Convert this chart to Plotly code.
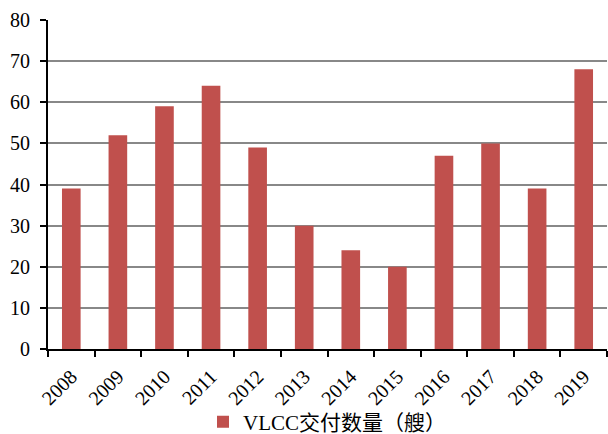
import plotly.graph_objects as go

years = ["2008", "2009", "2010", "2011", "2012", "2013", "2014", "2015", "2016", "2017", "2018", "2019"]
deliveries = [39, 52, 59, 64, 49, 30, 24, 20, 47, 50, 39, 68]
series_name = "VLCC交付数量（艘）"
y_ticks = [0, 10, 20, 30, 40, 50, 60, 70, 80]

font_family = "Liberation Serif, Times New Roman, Noto Sans CJK SC, serif"

fig = go.Figure()
fig.add_trace(go.Bar(
    x=years, y=deliveries, name=series_name,
    marker=dict(color="#C0504D", line=dict(width=0)),
    showlegend=True,
))

fig.update_layout(
    width=608, height=434,
    margin=dict(l=48, r=1, t=20, b=85, autoexpand=False),
    paper_bgcolor="white", plot_bgcolor="white",
    bargap=0.6,
    font=dict(family=font_family, size=19, color="#000000"),
    showlegend=True,
    legend=dict(orientation="h", x=0.5, xanchor="center",
                y=-0.222, yanchor="middle", bgcolor="rgba(0,0,0,0)",
                font=dict(size=21, family=font_family), itemwidth=30),
    xaxis=dict(
        type="category", tickson="boundaries", ticks="outside", ticklen=6,
        tickcolor="#000", tickwidth=2, showline=True, linecolor="#000", linewidth=2,
        tickangle=-45, tickfont=dict(size=20), showgrid=False, automargin=False,
        ticklabelstandoff=6,
    ),
    yaxis=dict(
        range=[0, 80], tickvals=y_ticks, ticks="outside", ticklen=6,
        tickcolor="#000", tickwidth=2, showline=True, linecolor="#000", linewidth=2,
        showgrid=True, gridcolor="#888888", gridwidth=1.5, zeroline=False,
        tickfont=dict(size=20), automargin=False, ticklabelstandoff=6,
    ),
)

fig.write_html("out.html")
